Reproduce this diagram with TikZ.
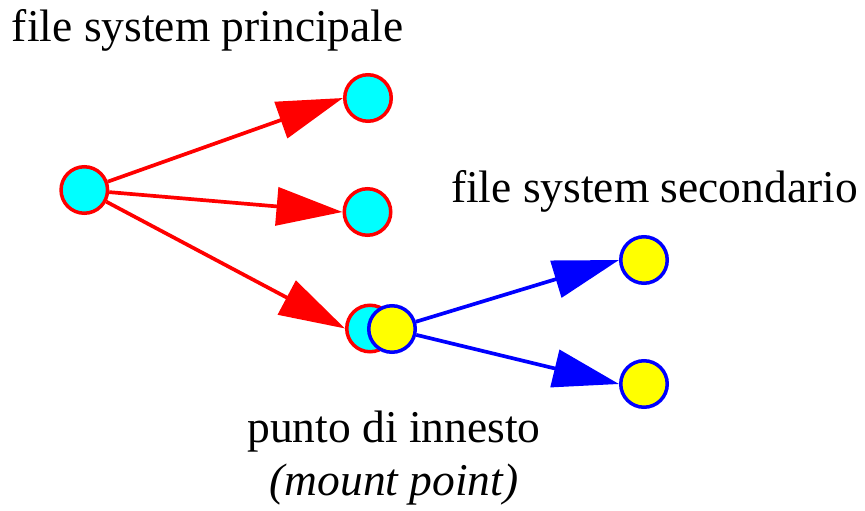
\documentclass[tikz,border=0pt]{standalone}
\usepackage{fontspec}
\setmainfont{Liberation Serif}
\usetikzlibrary{arrows.meta}
\definecolor{fscyan}{RGB}{0,255,255}
\definecolor{fsyellow}{RGB}{255,255,0}
\definecolor{fsred}{RGB}{255,0,0}
\definecolor{fsblue}{RGB}{0,0,255}
\begin{document}
\begin{tikzpicture}[x=1pt,y=-1pt,
  dot/.style={circle,minimum size=46.5pt,inner sep=0pt,line width=3.5pt},
  fsmain/.style={dot,draw=fsred,fill=fscyan},
  fssec/.style={dot,draw=fsblue,fill=fsyellow},
  link/.style={line width=3.7pt,-{Triangle[length=66pt,width=38pt]}},
  txt/.style={inner sep=0pt,font=\fontsize{45.5}{53}\selectfont}]
\useasboundingbox (0,0) rectangle (865,511);

% main file system tree
\node[fsmain] (root) at (84.3,190) {};
\node[fsmain] (a)    at (368,98) {};
\node[fsmain] (b)    at (367.5,212) {};
\node[fsmain] (mp)   at (370,328.5) {};

% secondary file system, attached at the mount point
\node[fssec] (sroot) at (392,329) {};
\node[fssec] (c)     at (644,260) {};
\node[fssec] (d)     at (644,384) {};

\draw[link,fsred] (root) -- (a.west);
\draw[link,fsred] (root) -- (b.west);
\draw[link,fsred] (root) -- (mp.west);
\draw[link,fsblue] (sroot) -- (c.west);
\draw[link,fsblue] (sroot) -- (d.west);

% labels
\node[txt,anchor=base west] (lmain) at (11.8,41.7) {file system principale};
\node[txt,anchor=base west] (lsec) at (450.8,202) {file system secondario};
\node[txt,anchor=base] (lmp) at (394,442.5) {punto di innesto};
\node[txt,anchor=base] (lmpen) at (394,495.5) {\itshape(mount point)};
\end{tikzpicture}
\end{document}
